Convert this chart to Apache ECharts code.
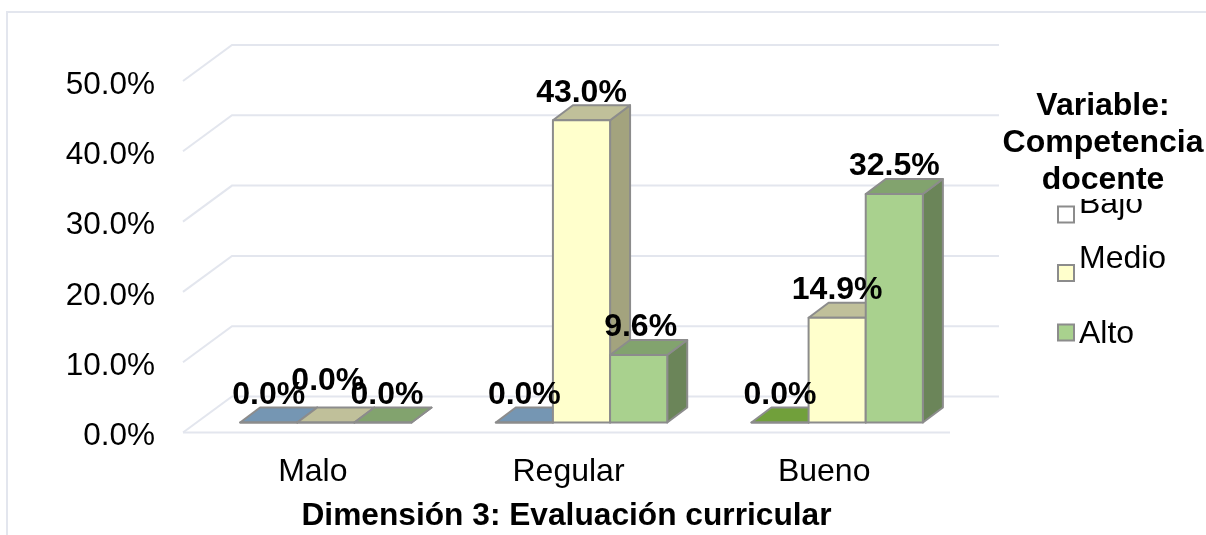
<!DOCTYPE html>
<html>
<head>
<meta charset="utf-8">
<style>html,body{margin:0;padding:0;background:#fff}#c{width:1206px;height:535px}</style>
<script src="https://cdn.jsdelivr.net/npm/echarts@6/dist/echarts.min.js"></script>
</head>
<body>
<div id="c"></div>
<script>
var categories = ['Malo', 'Regular', 'Bueno'];
var bajo = [0.0, 0.0, 0.0];
var medio = [0.0, 43.0, 14.9];
var alto = [0.0, 9.6, 32.5];
var yTicks = [0, 10, 20, 30, 40, 50];
var seriesNames = ['Bajo', 'Medio', 'Alto'];
var legendTitle = 'Variable:\nCompetencia\ndocente';
var axisTitle = 'Dimensión 3: Evaluación curricular';

var FONT = '"Liberation Sans", Arial, sans-serif';
var GRID = '#E3E6EE', EDGE = '#8C8C8C';
var palettes = [
  {front: '#FFFFFF', top: ['#7596B3', '#7596B3', '#71A03B'], side: '#A0A0A0'},
  {front: '#FFFFCC', top: ['#C0C09A', '#C0C09A', '#C0C09A'], side: '#A3A37E'},
  {front: '#A9D18E', top: ['#82A36E', '#82A36E', '#82A36E'], side: '#6B8559'}
];
var WALL = {dx: 49, dy: -36};
var BAR = {dx: 20, dy: -15, ox: 15, oy: -10, share: 0.2235};

function face(points, fill) {
  return {type: 'polygon', shape: {points: points},
    style: {fill: fill, stroke: EDGE, lineWidth: 2, lineJoin: 'round'}};
}
function barBox(api, cat, val, s) {
  var base = api.coord([cat, 0]), top = api.coord([cat, val]);
  var w = api.size([1, 0])[0] * BAR.share;
  var x = base[0] + BAR.ox - 1.5 * w + s * w;
  return {x: x, w: w, y0: base[1] + BAR.oy, y1: top[1] + BAR.oy};
}
function barRenderer(s) {
  return function (params, api) {
    var cat = api.value(0), val = api.value(1);
    var b = barBox(api, cat, val, s), p = palettes[s];
    var dx = BAR.dx, dy = BAR.dy;
    return {type: 'group', children: [
      face([[b.x + b.w, b.y0], [b.x + b.w + dx, b.y0 + dy], [b.x + b.w + dx, b.y1 + dy], [b.x + b.w, b.y1]], p.side),
      face([[b.x, b.y1], [b.x + b.w, b.y1], [b.x + b.w + dx, b.y1 + dy], [b.x + dx, b.y1 + dy]], p.top[cat]),
      face([[b.x, b.y0], [b.x + b.w, b.y0], [b.x + b.w, b.y1], [b.x, b.y1]], p.front)
    ]};
  };
}
function wallRenderer(params, api) {
  var v = api.value(0);
  var a = api.coord([0, v]), bw = api.size([1, 0])[0];
  var x0 = a[0] - bw / 2, y = a[1], x1 = x0 + 3 * bw;
  var pts = [[x0, y], [x0 + WALL.dx, y + WALL.dy], [x1 + WALL.dx, y + WALL.dy]];
  var kids = [{type: 'polyline', shape: {points: pts}, style: {fill: 'none', stroke: GRID, lineWidth: 2}}];
  if (v === 0) {
    kids.push({type: 'line', shape: {x1: x0, y1: y, x2: x1, y2: y}, style: {stroke: GRID, lineWidth: 2}});
  }
  return {type: 'group', children: kids};
}
function labelRenderer(params, api) {
  var cat = api.value(0), val = api.value(1), s = api.value(2);
  var b = barBox(api, cat, val, s);
  var nx = 0, ny = 0;
  if (cat === 0 && s === 1) { nx = 2; ny = -14; }
  if (cat === 0 && s === 2) nx = 4;
  if (cat === 1 && s === 2) nx = 2;
  return {type: 'text', style: {
    text: val.toFixed(1) + '%', x: b.x + b.w / 2 + nx, y: b.y1 - 27.5 + ny,
    align: 'center', verticalAlign: 'middle', fill: '#000',
    fontSize: 32, fontWeight: 'bold', fontFamily: FONT
  }};
}
function rows(vals) { return vals.map(function (v, i) { return [i, v]; }); }
var labelRows = [];
[bajo, medio, alto].forEach(function (vals, s) {
  vals.forEach(function (v, i) { labelRows.push([i, v, s]); });
});
function legendAt(name, top, pad, s) {
  return {
    data: [name], left: 1052, top: top, orient: 'vertical', selectedMode: false,
    icon: 'rect', itemWidth: 16, itemHeight: 16, itemGap: 0,
    itemStyle: {color: palettes[s].front, borderColor: EDGE, borderWidth: 2},
    formatter: '{a|{name}}',
    textStyle: {rich: {a: {fontSize: 32, color: '#000', fontFamily: FONT, padding: pad}}}
  };
}
var option = {
  backgroundColor: '#fff',
  animation: false,
  title: {
    text: legendTitle, left: 1103, top: 88, padding: 0, textAlign: 'center', z: 10,
    backgroundColor: '#fff',
    textStyle: {fontSize: 32, fontWeight: 'bold', color: '#000', fontFamily: FONT, lineHeight: 37, align: 'center'}
  },
  legend: [
    legendAt('Bajo', 183.5, [0, 0, 20, 0], 0),
    legendAt('Medio', 238.5, [0, 0, 27, 0], 1),
    legendAt('Alto', 313.5, [4, 0, 0, 0], 2)
  ],
  grid: {left: 183, right: 256, top: 81, bottom: 102.5, outerBoundsMode: 'none'},
  xAxis: {
    type: 'category', data: categories,
    axisLine: {show: false}, axisTick: {show: false},
    axisLabel: {color: '#000', margin: 24,
      formatter: function (v) { return '{a|' + v + '}'; },
      rich: {a: {fontSize: 32, color: '#000', fontFamily: FONT, padding: [0, 0, 0, 4]}}},
    name: axisTitle, nameLocation: 'middle', nameGap: 68,
    nameTextStyle: {fontSize: 31.7, fontWeight: 'bold', color: '#000', fontFamily: FONT}
  },
  yAxis: {
    type: 'value', min: 0, max: 50, interval: 10,
    axisLine: {show: false}, axisTick: {show: false}, splitLine: {show: false},
    axisLabel: {color: '#000', margin: 28,
      formatter: function (v) { return '{a|' + v.toFixed(1) + '%}'; },
      rich: {a: {fontSize: 31.5, color: '#000', fontFamily: FONT, padding: [8, 0, 0, 0]}}}
  },
  graphic: [
    {type: 'polyline', silent: true, z: -1, shape: {points: [[7, 535], [7, 12], [1206, 12]]},
      style: {fill: 'none', stroke: GRID, lineWidth: 2}}
  ],
  series: [
    {type: 'custom', name: 'walls', silent: true, z: 1, renderItem: wallRenderer,
      data: yTicks.map(function (v) { return [v]; }), encode: {y: 0}},
    {type: 'custom', name: seriesNames[0], z: 2, renderItem: barRenderer(0), data: rows(bajo), encode: {x: 0, y: 1}},
    {type: 'custom', name: seriesNames[1], z: 3, renderItem: barRenderer(1), data: rows(medio), encode: {x: 0, y: 1}},
    {type: 'custom', name: seriesNames[2], z: 4, renderItem: barRenderer(2), data: rows(alto), encode: {x: 0, y: 1}},
    {type: 'custom', name: 'labels', silent: true, z: 5, renderItem: labelRenderer, data: labelRows, encode: {x: 0, y: 1}}
  ]
};
echarts.init(document.getElementById('c')).setOption(option);
</script>
</body>
</html>
